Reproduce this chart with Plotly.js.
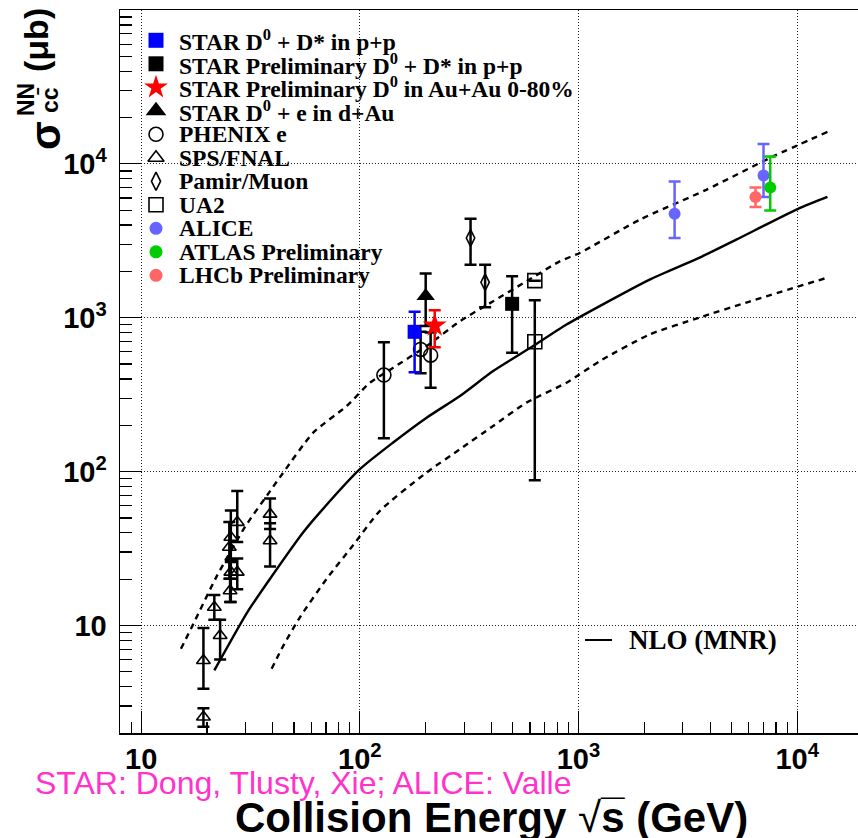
<!DOCTYPE html>
<html>
<head>
<meta charset="utf-8">
<script src="https://cdn.plot.ly/plotly-3.0.1.min.js"></script>
<style>
html, body { margin: 0; padding: 0; overflow: hidden; background: #fff; }
#chart { width: 870px; height: 838px; }
</style>
</head>
<body>
<div id="chart"></div>
<script>
// NLO (MNR) charm cross section vs collision energy: central value and band edges
const nloE      = [21.6, 30.6, 38.85, 55.1, 65.7, 100, 142, 202, 287, 407, 620, 881, 1250, 2114, 3578, 5263, 10245, 13750];
const nloSig    = [5.1, 12.2, 20.1, 40.3, 54.3, 103.6, 154.5, 224, 310, 450, 654, 903, 1190, 1769, 2457, 3215, 5160, 6110];
const nloUpE    = [15.2, 17.3, 22.2, 29.9, 38.85, 44.1, 61.2, 87.1, 111.2, 142, 202, 287, 407, 578, 821, 1013, 1904, 3839, 7735, 13750];
const nloUpSig  = [7.05, 10.2, 21.0, 43.9, 74.6, 96.2, 179, 267, 378, 473, 654, 949, 1279, 1725, 2325, 2636, 4334, 6784, 11150, 16130];
const nloLoE    = [39.5, 44.7, 53.2, 70.5, 93.3, 123.5, 202, 287, 407, 578, 881, 1250, 2114, 3578, 6057, 13750];
const nloLoSig  = [5.23, 7.4, 11.3, 20.1, 33.3, 55.6, 98.7, 139.8, 197.9, 280.6, 378.2, 522.3, 778, 1003, 1274, 1823];

// STAR D0 + D* in p+p
const starPpE = [178], starPpSig = [810], starPpUp = [282], starPpDn = [367];
// STAR Preliminary D0 + D* in p+p (500 GeV)
const starPp500E = [497], starPp500Sig = [1231], starPp500Up = [627], starPp500Dn = [639];
// STAR Preliminary D0 in Au+Au 0-80%
const starAuE = [220], starAuSig = [890], starAuUp = [228], starAuDn = [246];
// STAR D0 + e in d+Au
const starDAuE = [200], starDAuSig = [1384], starDAuUp = [551], starDAuDn = [500];
// PHENIX e
const phenixE = [128.8, 189.6, 210.7], phenixSig = [424, 622, 571], phenixUp = [270, 190, 230], phenixDn = [259, 187, 220];
// SPS/FNAL
const spsE   = [19.26, 19.26, 21.6, 22.96, 27.5, 25.7, 25.3, 25.7, 27.5, 25.5, 38.85, 38.85];
const spsSig = [5.92, 2.54, 13.14, 8.6, 46.8, 37.4, 32.2, 22.2, 22.2, 16.8, 52.9, 35.5];
const spsUp  = [3.7, 0.36, 2.65, 2.3, 28, 18.4, 14.8, 4.5, 5, 3.3, 14, 10.6];
const spsDn  = [2.04, 0.34, 2.24, 2.6, 12, 11.6, 12.1, 8, 5, 2.6, 10.6, 11.3];
// Pamir/Muon
const pamirE = [320.8, 374], pamirSig = [3298, 1699], pamirUp = [1101, 514], pamirDn = [1085, 529];
// UA2
const ua2E = [631, 631], ua2Sig = [698, 1742], ua2Up = [601, 0], ua2Dn = [610, 0];
// ALICE
const aliceE = [2751, 7015], aliceSig = [4740, 8400], aliceUp = [2938, 5080], aliceDn = [1442, 2319];
// ATLAS Preliminary
const atlasE = [7530], atlasSig = [7020], atlasUp = [4130], atlasDn = [2041];
// LHCb Preliminary
const lhcbE = [6450], lhcbSig = [6081], lhcbUp = [939], lhcbDn = [843];

// Legend labels
const legendLabels = [
  'STAR D<sup>0</sup> + D* in p+p',
  'STAR Preliminary D<sup>0</sup> + D* in p+p',
  'STAR Preliminary D<sup>0</sup> in Au+Au 0-80%',
  'STAR D<sup>0</sup> + e in d+Au',
  'PHENIX e',
  'SPS/FNAL',
  'Pamir/Muon',
  'UA2',
  'ALICE',
  'ATLAS Preliminary',
  'LHCb Preliminary'
];
const theoryLabel = 'NLO (MNR)';
const xTickVals = [10, 100, 1000, 10000];
const xTickText = ['10', '10<sup>2</sup>', '10<sup>3</sup>', '10<sup>4</sup>'];
const yTickVals = [10, 100, 1000, 10000];
const yTickText = ['10', '10<sup>2</sup>', '10<sup>3</sup>', '10<sup>4</sup>'];

// ---- styles ----
const BLACK = '#000000';
const styles = [
  {symbol: 'square', size: 14, color: '#0000ff'},
  {symbol: 'square', size: 14, color: BLACK},
  {symbol: 'star', size: 18, color: '#ff0000'},
  {symbol: 'triangle-up', size: 16, color: BLACK},
  {symbol: 'circle-open', size: 14, color: BLACK, lw: 1.6},
  {symbol: 'triangle-up-open', size: 12, color: BLACK, lw: 1.6},
  {symbol: 'diamond-tall-open', size: 12, color: BLACK, lw: 1.6},
  {symbol: 'square-open', size: 14, color: BLACK, lw: 1.6},
  {symbol: 'circle', size: 12, color: '#6666ff'},
  {symbol: 'circle', size: 12, color: '#00cc00'},
  {symbol: 'circle', size: 12, color: '#ff6666'}
];
const legendSizes = [15, 15, 18, 18, 14, 14, 13, 14, 13, 13, 13];

function marker(st, size) {
  const m = {symbol: st.symbol, size: size || st.size, color: st.color};
  if (st.lw) m.line = {color: st.color, width: st.lw};
  return m;
}
function errs(up, dn, color) {
  return {type: 'data', symmetric: false, array: up, arrayminus: dn,
          color: color, thickness: 2.5, width: 6};
}
function series(x, y, up, dn, st) {
  return {type: 'scatter', mode: 'markers', x: x, y: y, showlegend: false,
          hoverinfo: 'skip', cliponaxis: true,
          marker: marker(st), error_y: errs(up, dn, st.color)};
}
function curve(x, y, dash) {
  return {type: 'scatter', mode: 'lines', x: x, y: y, showlegend: false, hoverinfo: 'skip',
          line: {color: BLACK, width: 2.4, dash: dash, shape: 'spline', smoothing: 0.6}};
}

const traces = [
  curve(nloE, nloSig, 'solid'),
  curve(nloUpE, nloUpSig, '6px,5px'),
  curve(nloLoE, nloLoSig, '6px,5px'),
  series(spsE, spsSig, spsUp, spsDn, styles[5]),
  series(phenixE, phenixSig, phenixUp, phenixDn, styles[4]),
  series(pamirE, pamirSig, pamirUp, pamirDn, styles[6]),
  series(ua2E, ua2Sig, ua2Up, ua2Dn, styles[7]),
  series(starPpE, starPpSig, starPpUp, starPpDn, styles[0]),
  series(starPp500E, starPp500Sig, starPp500Up, starPp500Dn, styles[1]),
  series(starDAuE, starDAuSig, starDAuUp, starDAuDn, styles[3]),
  series(starAuE, starAuSig, starAuUp, starAuDn, styles[2]),
  series(aliceE, aliceSig, aliceUp, aliceDn, styles[8]),
  series(lhcbE, lhcbSig, lhcbUp, lhcbDn, styles[10]),
  series(atlasE, atlasSig, atlasUp, atlasDn, styles[9])
];

// Legend box drawn on an overlay pixel-scaled axis pair
const PLOT_L = 120, PLOT_R = 863, PLOT_T = 10, PLOT_B = 733;
const LEG_MX = 156, LEG_TX = 177, LEG_Y0 = 40.3, LEG_DY = 23.5;
const SERIF = 'Liberation Serif, Times New Roman, serif';
const SANS = 'Liberation Sans, Arial, Helvetica, sans-serif';

const annotations = [];
legendLabels.forEach(function (lab, i) {
  const yy = LEG_Y0 + LEG_DY * i;
  traces.push({type: 'scatter', mode: 'markers', x: [LEG_MX], y: [yy], xaxis: 'x2', yaxis: 'y2',
               showlegend: false, hoverinfo: 'skip', marker: marker(styles[i], legendSizes[i])});
  annotations.push({xref: 'x2', yref: 'y2', x: LEG_TX, y: yy, xanchor: 'left', yanchor: 'middle',
                    text: '<b>' + lab + '</b>', showarrow: false,
                    font: {family: SERIF, size: 23.5, color: BLACK}});
});
// theory legend entry
traces.push({type: 'scatter', mode: 'lines', x: [585, 612], y: [640, 640], xaxis: 'x2', yaxis: 'y2',
             showlegend: false, hoverinfo: 'skip', line: {color: BLACK, width: 2}});
annotations.push({xref: 'x2', yref: 'y2', x: 627, y: 640, xanchor: 'left', yanchor: 'middle',
                  text: '<b>' + theoryLabel + '</b>', showarrow: false,
                  font: {family: SERIF, size: 27, color: BLACK}});

function px(xp) { return (xp - PLOT_L) / (PLOT_R - PLOT_L); }
function py(yp) { return (PLOT_B - yp) / (PLOT_B - PLOT_T); }

function sideText(x, y, txt, size) {
  return {xref: 'paper', yref: 'paper', x: px(x), y: py(y), xanchor: 'center', yanchor: 'middle',
          textangle: -90, text: txt, showarrow: false, font: {family: SANS, size: size, color: BLACK}};
}
// y axis title pieces (sigma with stacked NN / c cbar indices)
annotations.push(sideText(36, 40, '<b>(μb)</b>', 34));
annotations.push(sideText(45, 136, '<b>σ</b>', 42));
annotations.push(sideText(26, 99, '<b>NN</b>', 23));
annotations.push(sideText(50, 100, '<b>cc\u0304</b>', 23));
// x axis title
annotations.push({xref: 'paper', yref: 'paper', x: px(491), y: py(817), xanchor: 'center', yanchor: 'middle',
                  text: '<b>Collision Energy</b> √<b>s\u0305</b> <b>(GeV)</b>', showarrow: false,
                  font: {family: SANS, size: 42, color: BLACK}});
// credit line
annotations.push({xref: 'paper', yref: 'paper', x: px(33), y: py(783), xanchor: 'left', yanchor: 'middle',
                  text: 'STAR: Dong, Tlusty, Xie; ALICE: Valle', showarrow: false,
                  font: {family: SANS, size: 32, color: '#ff33cc'}});

function minorLog(lo, hi) {
  const out = [];
  for (let d = lo; d <= hi; d *= 10) for (let k = 2; k <= 9; k++) out.push(k * d);
  return out;
}

const axisCommon = {
  type: 'log', showline: true, linecolor: BLACK, linewidth: 1.5,
  ticks: 'inside', ticklen: 22, tickwidth: 1.2, tickcolor: BLACK, tickmode: 'array',
  tickfont: {family: SANS, size: 29, color: BLACK, weight: 'bold'},
  showgrid: true, gridcolor: '#222', griddash: '1px,2px', gridwidth: 1, zeroline: false
};

const layout = {
  width: 870, height: 838,
  margin: {l: PLOT_L, r: 870 - PLOT_R, t: PLOT_T, b: 838 - PLOT_B},
  paper_bgcolor: '#fff', plot_bgcolor: '#fff',
  showlegend: false,
  xaxis: Object.assign({}, axisCommon, {
    range: [Math.log10(8), Math.log10(20000)], mirror: true,
    tickvals: xTickVals, ticktext: xTickText, ticklabelstandoff: 0,
    minor: {tickmode: 'array', tickvals: minorLog(1, 10000), ticks: 'inside', ticklen: 11,
            tickwidth: 1.2, tickcolor: BLACK, showgrid: false}
  }),
  yaxis: Object.assign({}, axisCommon, {
    range: [Math.log10(2), 5], mirror: false,
    tickvals: yTickVals, ticktext: yTickText, ticklabelstandoff: 6,
    minor: {tickmode: 'array', tickvals: minorLog(1, 10000), ticks: 'inside', ticklen: 12,
            tickwidth: 1.2, tickcolor: BLACK, showgrid: false}
  }),
  xaxis2: {overlaying: 'x', anchor: 'y2', range: [PLOT_L, PLOT_R], visible: false, fixedrange: true},
  yaxis2: {overlaying: 'y', anchor: 'x2', range: [PLOT_B, PLOT_T], visible: false, fixedrange: true},
  annotations: annotations
};

Plotly.newPlot('chart', traces, layout, {staticPlot: true, displayModeBar: false});
</script>
</body>
</html>
